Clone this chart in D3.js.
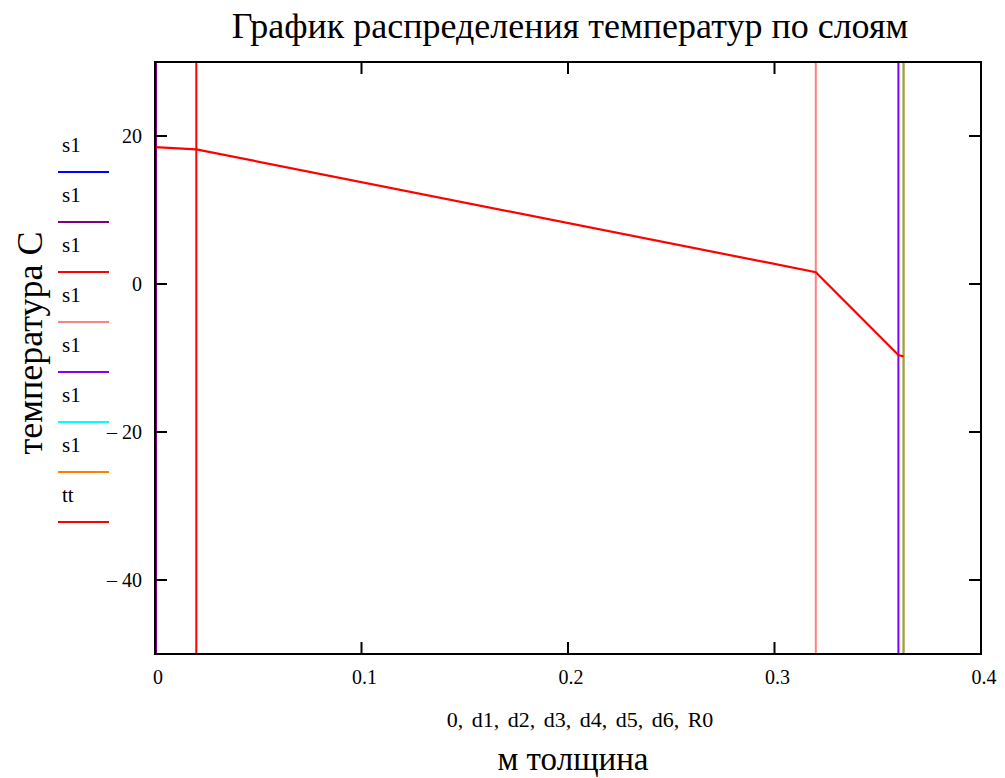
<!doctype html>
<html>
<head>
<meta charset="utf-8">
<style>
  body { margin: 0; background: #fff; }
  text { font-family: "Liberation Serif", "Times New Roman", serif; fill: #000; }
</style>
<script src="https://d3js.org/d3.v7.min.js"></script>
</head>
<body>
<svg width="1005" height="778"></svg>
<script>
// layer boundaries (m) drawn as vertical lines s1
var layerX = [0, 0, 0.02, 0.32, 0.36, 0.3625, 0.3625];
var layerColors = ["#0000ff", "#800080", "#ff0000", "#ff8080", "#8000ff", "#00ffff", "#ff8000"];
var legendNames = ["s1", "s1", "s1", "s1", "s1", "s1", "s1", "tt"];
// temperature profile tt
var ttX = [0, 0.02, 0.32, 0.36, 0.3625];
var ttY = [18.5, 18.2, 1.6, -9.6, -9.8];
var xTicks = [0, 0.1, 0.2, 0.3, 0.4];
var yTicks = [20, 0, -20, -40];

var svg = d3.select("svg");
var pLeft = 155, pRight = 981, pTop = 62, pBottom = 654;

var x = d3.scaleLinear().domain([0, 0.4]).range([pLeft, pRight]);
var y = d3.scaleLinear().domain([-50, 30]).range([pBottom, pTop]);

// title
svg.append("text")
   .attr("x", 570).attr("y", 38)
   .attr("text-anchor", "middle")
   .attr("font-size", "36px")
   .text("График распределения температур по слоям");

// vertical layer lines
svg.append("clipPath").attr("id", "c")
   .append("rect").attr("x", pLeft).attr("y", pTop)
   .attr("width", pRight - pLeft).attr("height", pBottom - pTop);
var plot = svg.append("g").attr("clip-path", "url(#c)");

layerX.forEach(function(v, i) {
  plot.append("line")
      .attr("x1", x(v) + (i == 1 ? 1 : 0)).attr("x2", x(v) + (i == 1 ? 1 : 0))
      .attr("y1", pTop).attr("y2", pBottom)
      .attr("stroke", layerColors[i])
      .attr("stroke-width", 2);
});

var line = d3.line()
   .x(function(d, i) { return x(ttX[i]); })
   .y(function(d) { return y(d); });
plot.append("path")
    .attr("d", line(ttY))
    .attr("fill", "none")
    .attr("stroke", "#ff0000")
    .attr("stroke-width", 2.2);

// frame with inward ticks on all sides
var tl = 12;
var axes = svg.append("g").attr("stroke", "#000").attr("stroke-width", 2);
axes.append("rect").attr("x", pLeft).attr("y", pTop)
    .attr("width", pRight - pLeft).attr("height", pBottom - pTop)
    .attr("fill", "none");
xTicks.forEach(function(t) {
  axes.append("line").attr("x1", x(t)).attr("x2", x(t)).attr("y1", pBottom).attr("y2", pBottom - tl);
  axes.append("line").attr("x1", x(t)).attr("x2", x(t)).attr("y1", pTop).attr("y2", pTop + tl);
});
yTicks.forEach(function(t) {
  axes.append("line").attr("x1", pLeft).attr("x2", pLeft + tl).attr("y1", y(t)).attr("y2", y(t));
  axes.append("line").attr("x1", pRight).attr("x2", pRight - tl).attr("y1", y(t)).attr("y2", y(t));
});

// tick labels
svg.selectAll(".xt").data(xTicks).enter().append("text")
   .attr("x", function(d) { return x(d) + 3; })
   .attr("y", 684)
   .attr("text-anchor", "middle")
   .attr("font-size", "20px")
   .text(function(d) { return d; });

svg.selectAll(".yt").data(yTicks).enter().append("text")
   .attr("x", 142)
   .attr("y", function(d) { return y(d) + 7; })
   .attr("text-anchor", "end")
   .attr("font-size", "20px")
   .text(function(d) { return d < 0 ? "\u2013 " + Math.abs(d) : d; });

// axis labels
svg.append("text")
   .attr("x", 580).attr("y", 727)
   .attr("text-anchor", "middle")
   .attr("font-size", "22px")
   .attr("word-spacing", "3px")
   .text("0, d1, d2, d3, d4, d5, d6, R0");
svg.append("text")
   .attr("x", 573).attr("y", 770)
   .attr("text-anchor", "middle")
   .attr("font-size", "33px")
   .text("м толщина");
svg.append("text")
   .attr("transform", "translate(42,343) rotate(-90)")
   .attr("text-anchor", "middle")
   .attr("font-size", "36px")
   .text("температура С");

// legend
var legColors = layerColors.concat(["#ff0000"]);
legendNames.forEach(function(n, i) {
  var ly = 172 + i * 50;
  svg.append("text")
     .attr("x", 62).attr("y", ly - 20)
     .attr("font-size", "21px")
     .text(n);
  svg.append("line")
     .attr("x1", 58).attr("x2", 109)
     .attr("y1", ly).attr("y2", ly)
     .attr("stroke", legColors[i])
     .attr("stroke-width", 2);
});
</script>
</body>
</html>
